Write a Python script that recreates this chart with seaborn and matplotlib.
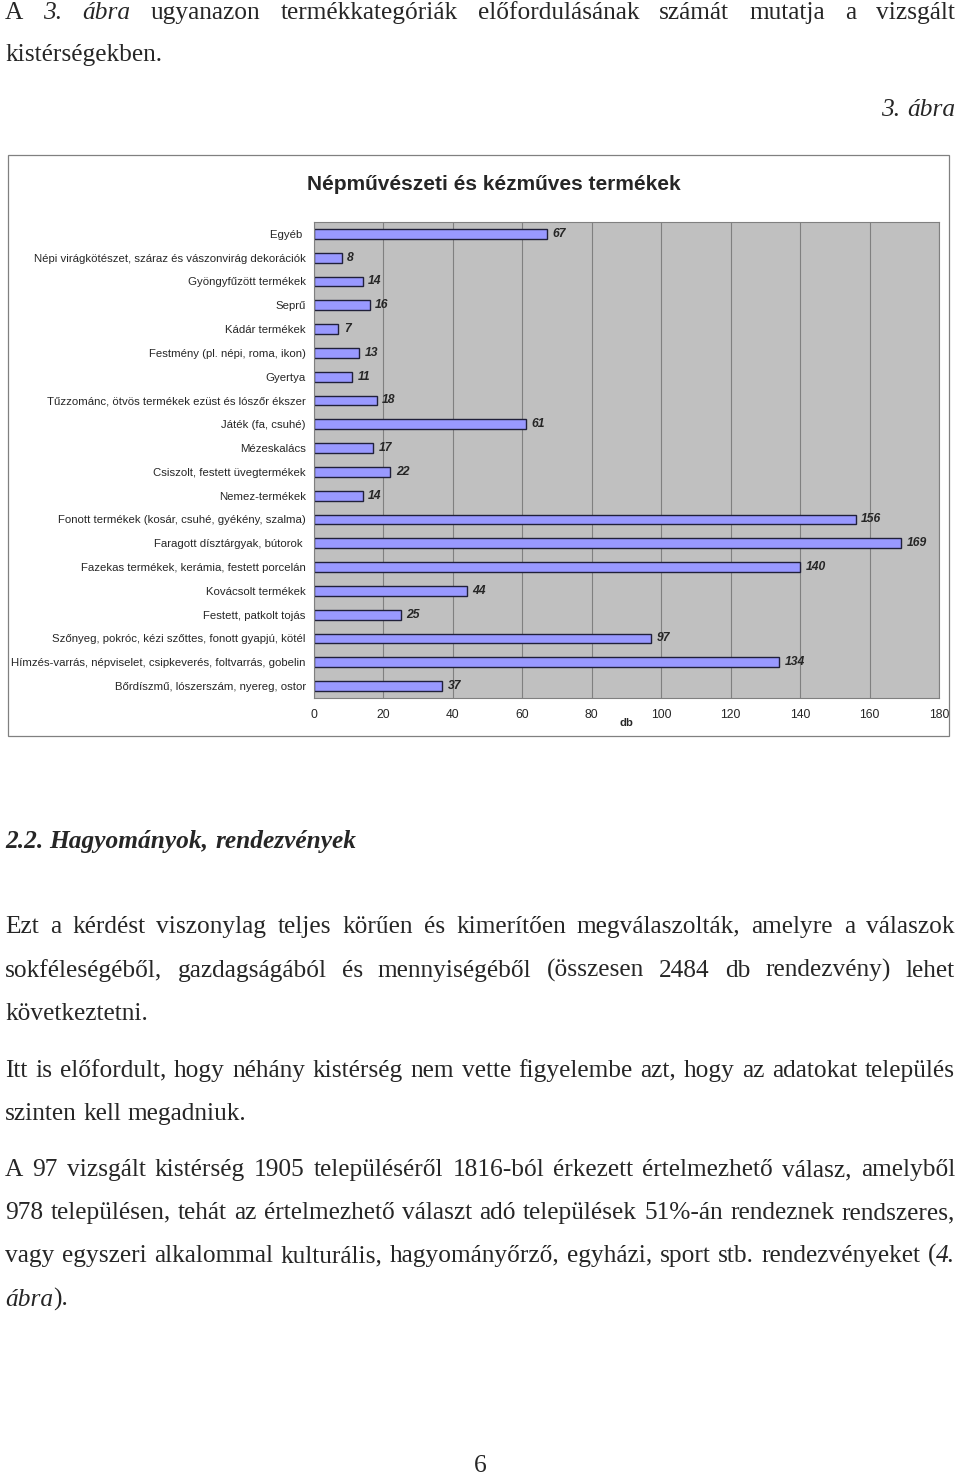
import matplotlib
matplotlib.use("Agg")
import matplotlib.pyplot as plt
import seaborn as sns
import numpy as np
import pandas as pd
from matplotlib.patches import Rectangle

# ---------------- data ----------------
categories = [
    "Egyéb ",
    "Népi virágkötészet, száraz és vászonvirág dekorációk",
    "Gyöngyfűzött termékek",
    "Seprű",
    "Kádár termékek",
    "Festmény (pl. népi, roma, ikon)",
    "Gyertya",
    "Tűzzománc, ötvös termékek ezüst és lószőr ékszer",
    "Játék (fa, csuhé)",
    "Mézeskalács",
    "Csiszolt, festett üvegtermékek",
    "Nemez-termékek",
    "Fonott termékek (kosár, csuhé, gyékény, szalma)",
    "Faragott dísztárgyak, bútorok ",
    "Fazekas termékek, kerámia, festett porcelán",
    "Kovácsolt termékek",
    "Festett, patkolt tojás",
    "Szőnyeg, pokróc, kézi szőttes, fonott gyapjú, kötél",
    "Hímzés-varrás, népviselet, csipkeverés, foltvarrás, gobelin",
    "Bőrdíszmű, lószerszám, nyereg, ostor",
]
values = [67, 8, 14, 16, 7, 13, 11, 18, 61, 17, 22, 14, 156, 169, 140, 44, 25, 97, 134, 37]
x_ticks = [0, 20, 40, 60, 80, 100, 120, 140, 160, 180]
chart_title = "Népművészeti és kézműves termékek"
x_label = "db"

top_lines = [
    ("A *3.* *ábra* ugyanazon termékkategóriák előfordulásának számát mutatja a vizsgált", True),
    ("kistérségekben.", False),
]
caption = "*3.* *ábra*"
heading = "2.2. Hagyományok, rendezvények"
paragraphs = [
    [("Ezt a kérdést viszonylag teljes körűen és kimerítően megválaszolták, amelyre a válaszok", True),
     ("sokféleségéből, gazdagságából és mennyiségéből (összesen 2484 db rendezvény) lehet", True),
     ("következtetni.", False)],
    [("Itt is előfordult, hogy néhány kistérség nem vette figyelembe azt, hogy az adatokat település", True),
     ("szinten kell megadniuk.", False)],
    [("A 97 vizsgált kistérség 1905 településéről 1816-ból érkezett értelmezhető válasz, amelyből", True),
     ("978 településen, tehát az értelmezhető választ adó települések 51%-án rendeznek rendszeres,", True),
     ("vagy egyszeri alkalommal kulturális, hagyományőrző, egyházi, sport stb. rendezvényeket (*4.*", True),
     ("*ábra*).", False)],
]
page_number = "6"

# ---------------- style ----------------
sns.set_style("white")
SANS = ["Liberation Sans", "DejaVu Sans"]
SERIF = ["Liberation Serif", "DejaVu Serif"]
plt.rcParams["font.family"] = SANS

W, H = 960, 1480
fig = plt.figure(figsize=(W / 100, H / 100), dpi=100)
renderer = fig.canvas.get_renderer()


def fx(x):
    return x / W


def fy(y):
    return 1 - y / H


def text_width(s, size, family, style="normal", weight="normal"):
    t = fig.text(0, 0, s, fontsize=size, family=family, fontstyle=style, fontweight=weight)
    w = t.get_window_extent(renderer).width
    t.remove()
    return w


# chart label size: widest category label must fit between x=10 and x=306
LS = 10 * 294 / max(text_width(c.strip(), 10, SANS) for c in categories)

# ---------------- chart ----------------
GRAY = "#808080"
ax = fig.add_axes([fx(314), fy(698), (939 - 314) / W, (698 - 222) / H])
df = pd.DataFrame({"cat": categories, "val": values})
sns.barplot(data=df, x="val", y="cat", order=categories, orient="h",
            color="#9999FF", saturation=1, edgecolor="#20203a",
            linewidth=1.0, width=0.42, ax=ax)
ax.set_facecolor("#C0C0C0")
ax.set_xlim(x_ticks[0], x_ticks[-1])
ax.set_xticks(x_ticks)
ax.set_xticklabels([str(t) for t in x_ticks])
ax.set_axisbelow(True)
ax.grid(axis="x", color=GRAY, linewidth=0.8)
ax.grid(axis="y", visible=False)
for s in ax.spines.values():
    s.set_color(GRAY)
    s.set_linewidth(0.8)
ax.set_ylabel("")
ax.set_xlabel(x_label, fontsize=LS, fontweight="bold", labelpad=-2)
ax.tick_params(axis="y", which="major", length=0, pad=6, labelsize=LS)
ax.set_yticks(np.arange(-0.5, len(categories), 1.0), minor=True)
ax.tick_params(axis="y", which="minor", length=3, color=GRAY, direction="out")
ax.tick_params(axis="x", which="major", length=3, color=GRAY, direction="out",
               pad=5, labelsize=LS + 0.6)
ax.bar_label(ax.containers[0], fmt="%d", padding=4, fontsize=LS + 0.6,
             fontweight="bold", fontstyle="italic")

fig.text(fx(494), fy(184), chart_title, ha="center", va="center",
         fontsize=15, fontweight="bold", family=SANS)
fig.patches.append(Rectangle((fx(8), fy(736)), (949 - 8) / W, (736 - 155) / H,
                             transform=fig.transFigure, fill=False,
                             edgecolor=GRAY, linewidth=0.9))

# ---------------- page text ----------------
X0, X1 = 5, 955


def parse(s):
    words = []
    for tok in s.split(" "):
        parts = tok.split("*")
        pieces = []
        for i, p in enumerate(parts):
            if p:
                pieces.append((p, "italic" if i % 2 == 1 else "normal"))
        words.append(pieces)
    return words


# body size so the widest justified line fits naturally
just_lines = [l for l, j in top_lines if j] + [l for p in paragraphs for l, j in p if j]
widest = max(text_width(l.replace("*", ""), 10, SERIF) for l in just_lines)
FS = 10 * 944 / widest


def place_line(s, ybase, justify=False, align="left", weight="normal", size=None):
    size = size or FS
    words = parse(s)
    objs, widths = [], []
    for word in words:
        pieces, ww = [], 0
        for txt, style in word:
            t = fig.text(0, fy(ybase), txt, fontsize=size, family=SERIF,
                         fontstyle=style if weight == "normal" else "italic",
                         fontweight=weight, va="baseline", ha="left")
            w = t.get_window_extent(renderer).width
            pieces.append((t, w))
            ww += w
        objs.append(pieces)
        widths.append(ww)
    space = text_width("a a", size, SERIF) - text_width("aa", size, SERIF)
    total = sum(widths)
    if justify and len(words) > 1:
        gap = (X1 - X0 - total) / (len(words) - 1)
    else:
        gap = space
    x = X1 - (total + gap * (len(words) - 1)) if align == "right" else X0
    for pieces, ww in zip(objs, widths):
        xx = x
        for t, w in pieces:
            t.set_x(fx(xx))
            xx += w
        x += ww + gap


for (line, j), yb in zip(top_lines, [19, 61]):
    place_line(line, yb, justify=j)
place_line(caption, 116, align="right")
place_line(heading, 848, weight="bold")

para_baselines = [[933, 977, 1020], [1077, 1120], [1176, 1219, 1262, 1306]]
for para, ybs in zip(paragraphs, para_baselines):
    for (line, j), yb in zip(para, ybs):
        place_line(line, yb, justify=j)

fig.text(fx(480), fy(1466), page_number, ha="center", va="center",
         fontsize=FS, family=SERIF)

fig.savefig("out.png", dpi=100)
